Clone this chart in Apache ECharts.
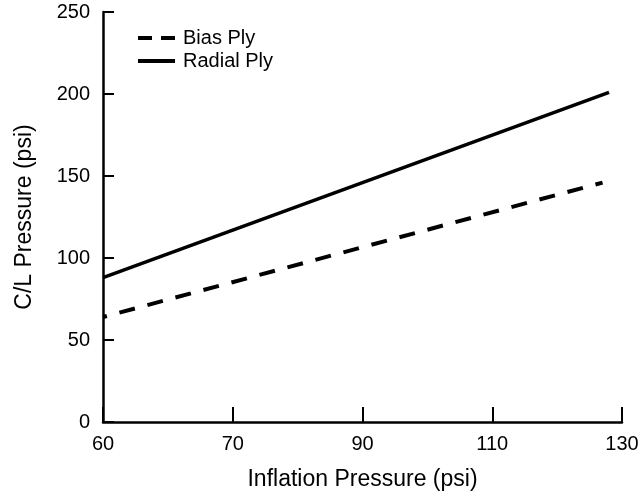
<!DOCTYPE html>
<html>
<head>
<meta charset="utf-8">
<script src="https://cdn.jsdelivr.net/npm/echarts@6/dist/echarts.min.js"></script>
<style>
	html, body { margin: 0; padding: 0; background: #fff; }
	#chart { width: 641px; height: 493px; }
</style>
</head>
<body>
<div id="chart"></div>
<script>
	// tick labels on the x axis are evenly spaced in the original figure
	var xTicks = [60, 70, 90, 110, 130];

	var biasX = [60, 127];
	var biasY = [64, 146];
	var radialX = [60, 128];
	var radialY = [88, 201];

	// psi -> position between the evenly spaced x ticks
	function xPos(v){
		for(var i = 0; i < xTicks.length - 1; i++){
			if(v <= xTicks[i + 1]){
				return i + (v - xTicks[i]) / (xTicks[i + 1] - xTicks[i]);
			}
		}
		return xTicks.length - 1;
	}

	function pairs(xs, ys){
		return xs.map(function(x, i){ return [xPos(x), ys[i]]; });
	}

	var font = 'Liberation Sans, Arial, sans-serif';
	var chart = echarts.init(document.getElementById('chart'));

	chart.setOption({
		animation: false,
		backgroundColor: '#fff',
		grid: { left: 103, right: 19, top: 12, bottom: 71, containLabel: false, outerBoundsMode: 'none' },
		legend: {
			orient: 'vertical',
			left: 131,
			top: 23,
			itemWidth: 37,
			itemHeight: 14,
			itemGap: 3,
			itemStyle: { color: 'transparent', borderWidth: 0, opacity: 0 },
			lineStyle: { width: 4 },
			textStyle: { fontFamily: font, fontSize: 20, color: '#000', padding: [0, 0, 0, 3] },
			data: [
				{ name: 'Bias Ply', lineStyle: { type: [14, 9], dashOffset: 0, width: 4 } },
				{ name: 'Radial Ply' }
			]
		},
		xAxis: {
			type: 'value',
			min: 0,
			max: xTicks.length - 1,
			interval: 1,
			name: 'Inflation Pressure (psi)',
			nameLocation: 'middle',
			nameGap: 46,
			nameTextStyle: { fontFamily: font, fontSize: 23, color: '#000' },
			axisLine: { lineStyle: { color: '#000', width: 2.5 } },
			axisTick: { inside: true, length: 15, lineStyle: { color: '#000', width: 2 } },
			axisLabel: {
				fontFamily: font, fontSize: 20, color: '#000', margin: 12,
				formatter: function(v){ return xTicks[Math.round(v)]; }
			},
			splitLine: { show: false }
		},
		yAxis: {
			type: 'value',
			min: 0,
			max: 250,
			interval: 50,
			name: 'C/L Pressure (psi)',
			nameLocation: 'middle',
			nameGap: 67,
			nameTextStyle: { fontFamily: font, fontSize: 23, color: '#000' },
			axisLine: { show: true, lineStyle: { color: '#000', width: 2.5 } },
			axisTick: { show: true, inside: true, length: 11, lineStyle: { color: '#000', width: 2 } },
			axisLabel: { fontFamily: font, fontSize: 20, color: '#000', margin: 13 },
			splitLine: { show: false }
		},
		series: [
			{
				name: 'Bias Ply',
				type: 'line',
				symbol: 'none',
				data: pairs(biasX, biasY),
				lineStyle: { color: '#000', width: 4, type: [16, 13], dashOffset: 12 },
				itemStyle: { color: '#000' }
			},
			{
				name: 'Radial Ply',
				type: 'line',
				symbol: 'none',
				data: pairs(radialX, radialY),
				lineStyle: { color: '#000', width: 3.5 },
				itemStyle: { color: '#000' }
			}
		]
	});
</script>
</body>
</html>
